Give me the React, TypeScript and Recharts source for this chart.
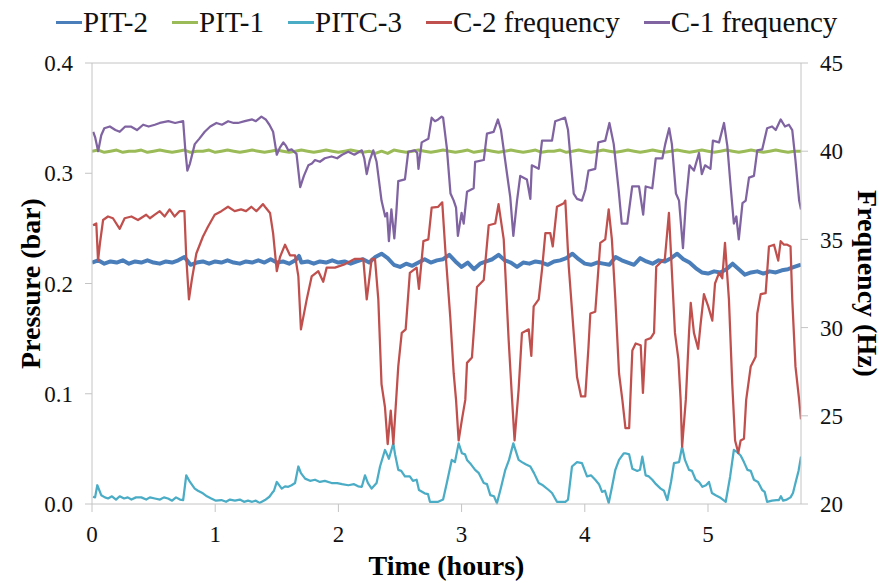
import React from "react"
import { Label, Line, LineChart, ReferenceLine, XAxis, YAxis } from "recharts"

// [hours, bar]
const pit2: [number, number][] = [
  [0, 0.219], [0.05, 0.221], [0.1, 0.218], [0.15, 0.22], [0.2, 0.219], [0.25, 0.221], [0.3, 0.218],
  [0.35, 0.22], [0.4, 0.219], [0.45, 0.221], [0.5, 0.219], [0.55, 0.218], [0.6, 0.22], [0.65, 0.219],
  [0.7, 0.221], [0.75, 0.224], [0.8, 0.217], [0.85, 0.219], [0.9, 0.22], [0.95, 0.218], [1.0, 0.22],
  [1.05, 0.219], [1.1, 0.221], [1.15, 0.219], [1.2, 0.218], [1.25, 0.22], [1.3, 0.219], [1.35, 0.221],
  [1.4, 0.219], [1.45, 0.222], [1.5, 0.219], [1.55, 0.22], [1.6, 0.218], [1.65, 0.221], [1.68, 0.225],
  [1.7, 0.219], [1.75, 0.22], [1.8, 0.218], [1.85, 0.22], [1.9, 0.219], [1.95, 0.221], [2.0, 0.219],
  [2.05, 0.22], [2.1, 0.218], [2.15, 0.22], [2.2, 0.222], [2.25, 0.219], [2.3, 0.224], [2.35, 0.227],
  [2.4, 0.223], [2.45, 0.217], [2.5, 0.215], [2.55, 0.218], [2.6, 0.216], [2.65, 0.219], [2.7, 0.222],
  [2.75, 0.219], [2.8, 0.221], [2.85, 0.222], [2.9, 0.226], [2.95, 0.22], [3.0, 0.215], [3.05, 0.219],
  [3.1, 0.213], [3.15, 0.218], [3.2, 0.22], [3.25, 0.222], [3.3, 0.226], [3.35, 0.221], [3.4, 0.219],
  [3.45, 0.215], [3.5, 0.219], [3.55, 0.218], [3.6, 0.22], [3.65, 0.219], [3.7, 0.217], [3.75, 0.22],
  [3.8, 0.221], [3.85, 0.223], [3.9, 0.227], [3.95, 0.222], [4.0, 0.218], [4.05, 0.217], [4.1, 0.219],
  [4.15, 0.218], [4.2, 0.217], [4.25, 0.224], [4.3, 0.221], [4.35, 0.219], [4.4, 0.217], [4.45, 0.223],
  [4.5, 0.22], [4.55, 0.218], [4.6, 0.221], [4.65, 0.22], [4.7, 0.223], [4.75, 0.227], [4.8, 0.222],
  [4.85, 0.219], [4.9, 0.214], [4.95, 0.21], [5.0, 0.209], [5.05, 0.211], [5.1, 0.21], [5.15, 0.213],
  [5.2, 0.218], [5.25, 0.213], [5.3, 0.208], [5.35, 0.21], [5.4, 0.211], [5.45, 0.209], [5.5, 0.211],
  [5.55, 0.21], [5.6, 0.212], [5.65, 0.213], [5.7, 0.215], [5.755, 0.217],
]

const pit1: [number, number][] = [
  [0, 0.32], [0.05, 0.321], [0.1, 0.319], [0.15, 0.32], [0.2, 0.321], [0.25, 0.319], [0.3, 0.32],
  [0.35, 0.32], [0.4, 0.321], [0.45, 0.319], [0.5, 0.32], [0.55, 0.321], [0.6, 0.32], [0.65, 0.319],
  [0.7, 0.32], [0.75, 0.321], [0.8, 0.319], [0.85, 0.32], [0.9, 0.32], [0.95, 0.321], [1.0, 0.319],
  [1.05, 0.32], [1.1, 0.321], [1.15, 0.32], [1.2, 0.319], [1.25, 0.32], [1.3, 0.321], [1.35, 0.32],
  [1.4, 0.319], [1.45, 0.32], [1.5, 0.321], [1.55, 0.32], [1.6, 0.319], [1.65, 0.32], [1.7, 0.321],
  [1.75, 0.32], [1.8, 0.319], [1.85, 0.32], [1.9, 0.321], [1.95, 0.32], [2.0, 0.319], [2.05, 0.32],
  [2.1, 0.321], [2.15, 0.32], [2.2, 0.319], [2.25, 0.32], [2.3, 0.318], [2.35, 0.32], [2.4, 0.318],
  [2.45, 0.321], [2.5, 0.32], [2.55, 0.319], [2.6, 0.32], [2.65, 0.321], [2.7, 0.32], [2.75, 0.319],
  [2.8, 0.32], [2.85, 0.321], [2.9, 0.32], [2.95, 0.319], [3.0, 0.32], [3.05, 0.321], [3.1, 0.319],
  [3.15, 0.32], [3.2, 0.321], [3.25, 0.32], [3.3, 0.319], [3.35, 0.32], [3.4, 0.321], [3.45, 0.32],
  [3.5, 0.319], [3.55, 0.32], [3.6, 0.321], [3.65, 0.319], [3.7, 0.32], [3.75, 0.32], [3.8, 0.321],
  [3.85, 0.319], [3.9, 0.32], [3.95, 0.321], [4.0, 0.32], [4.05, 0.319], [4.1, 0.32], [4.15, 0.321],
  [4.2, 0.32], [4.25, 0.319], [4.3, 0.32], [4.35, 0.321], [4.4, 0.32], [4.45, 0.319], [4.5, 0.32],
  [4.55, 0.321], [4.6, 0.32], [4.65, 0.319], [4.7, 0.32], [4.75, 0.321], [4.8, 0.32], [4.85, 0.319],
  [4.9, 0.32], [4.95, 0.321], [5.0, 0.32], [5.05, 0.319], [5.1, 0.32], [5.15, 0.321], [5.2, 0.32],
  [5.25, 0.319], [5.3, 0.32], [5.35, 0.321], [5.4, 0.32], [5.45, 0.319], [5.5, 0.32], [5.55, 0.321],
  [5.6, 0.32], [5.65, 0.319], [5.7, 0.32], [5.755, 0.32],
]

const pitc3: [number, number][] = [
  [0.008, 0.0066], [0.025, 0.006], [0.043, 0.017], [0.075, 0.008], [0.105, 0.006], [0.13, 0.005],
  [0.162, 0.007], [0.195, 0.004], [0.225, 0.007], [0.26, 0.005], [0.29, 0.006], [0.32, 0.004],
  [0.357, 0.006], [0.4, 0.006], [0.44, 0.004], [0.47, 0.006], [0.51, 0.005], [0.552, 0.004],
  [0.584, 0.006], [0.617, 0.005], [0.65, 0.003], [0.682, 0.006], [0.714, 0.004], [0.74, 0.0036],
  [0.765, 0.026], [0.795, 0.02], [0.834, 0.014], [0.86, 0.012], [0.9, 0.0097], [0.933, 0.007],
  [0.968, 0.005], [1.006, 0.003], [1.05, 0.0036], [1.088, 0.002], [1.12, 0.004], [1.16, 0.003],
  [1.2, 0.004], [1.234, 0.002], [1.266, 0.003], [1.3, 0.002], [1.33, 0.003], [1.36, 0.001],
  [1.404, 0.0036], [1.44, 0.0066], [1.46, 0.0097], [1.477, 0.012], [1.5, 0.02], [1.54, 0.014],
  [1.567, 0.016], [1.593, 0.0156], [1.62, 0.017], [1.648, 0.019], [1.675, 0.034], [1.696, 0.028],
  [1.73, 0.023], [1.77, 0.021], [1.81, 0.022], [1.85, 0.02], [1.89, 0.021], [1.945, 0.019],
  [1.99, 0.019], [2.03, 0.018], [2.08, 0.017], [2.127, 0.018], [2.16, 0.016], [2.19, 0.0156],
  [2.216, 0.026], [2.24, 0.019], [2.27, 0.014], [2.31, 0.019], [2.338, 0.034], [2.378, 0.049],
  [2.395, 0.045], [2.41, 0.041], [2.446, 0.055], [2.46, 0.045], [2.486, 0.031], [2.51, 0.03],
  [2.54, 0.025], [2.58, 0.025], [2.605, 0.021], [2.635, 0.022], [2.654, 0.0127], [2.7, 0.0097],
  [2.727, 0.009], [2.743, 0.002], [2.81, 0.002], [2.85, 0.004], [2.88, 0.019], [2.92, 0.04],
  [2.946, 0.038], [2.976, 0.055], [3.003, 0.046], [3.028, 0.045], [3.044, 0.04], [3.076, 0.036],
  [3.11, 0.031], [3.14, 0.028], [3.18, 0.019], [3.206, 0.018], [3.233, 0.008], [3.263, 0.007],
  [3.287, 0.0006], [3.32, 0.015], [3.355, 0.031], [3.385, 0.04], [3.42, 0.055], [3.463, 0.04],
  [3.49, 0.038], [3.52, 0.036], [3.558, 0.034], [3.588, 0.028], [3.626, 0.019], [3.66, 0.017],
  [3.707, 0.0127], [3.734, 0.01], [3.774, 0.002], [3.842, 0.002], [3.864, 0.004], [3.896, 0.034],
  [3.937, 0.038], [3.977, 0.037], [4.018, 0.025], [4.05, 0.026], [4.085, 0.022], [4.115, 0.018],
  [4.14, 0.011], [4.164, 0.012], [4.194, 0.001], [4.22, 0.015], [4.248, 0.031], [4.278, 0.04],
  [4.316, 0.046], [4.33, 0.046], [4.36, 0.045], [4.386, 0.032], [4.426, 0.03], [4.448, 0.031],
  [4.467, 0.043], [4.494, 0.026], [4.52, 0.025], [4.548, 0.022], [4.578, 0.018], [4.616, 0.014],
  [4.643, 0.012], [4.67, 0.0036], [4.7, 0.02], [4.724, 0.037], [4.765, 0.038], [4.79, 0.052],
  [4.813, 0.04], [4.846, 0.031], [4.87, 0.03], [4.9, 0.022], [4.927, 0.02], [4.955, 0.0156],
  [4.984, 0.017], [5.008, 0.02], [5.032, 0.01], [5.062, 0.008], [5.097, 0.006], [5.144, 0.002],
  [5.18, 0.025], [5.21, 0.049], [5.237, 0.047], [5.265, 0.044], [5.292, 0.038], [5.32, 0.031],
  [5.347, 0.03], [5.373, 0.022], [5.406, 0.02], [5.44, 0.0127], [5.46, 0.011], [5.48, 0.002],
  [5.52, 0.003], [5.555, 0.0035], [5.576, 0.0036], [5.592, 0.007], [5.61, 0.003], [5.64, 0.004],
  [5.67, 0.006], [5.69, 0.01], [5.71, 0.019], [5.735, 0.03], [5.755, 0.043],
]

// [hours, Hz]
const c2Freq: [number, number][] = [
  [0.008, 35.8], [0.035, 35.9], [0.049, 33.8], [0.065, 34.8], [0.09, 36.1], [0.13, 36.3], [0.17, 36.2],
  [0.225, 35.6], [0.265, 36.2], [0.32, 36.3], [0.373, 36.1], [0.44, 36.4], [0.47, 36.2], [0.51, 36.4],
  [0.55, 36.6], [0.59, 36.3], [0.63, 36.7], [0.67, 36.3], [0.71, 36.6], [0.75, 36.6], [0.765, 34.0],
  [0.787, 31.6], [0.81, 32.7], [0.847, 34.2], [0.9, 35.15], [0.94, 35.7], [0.996, 36.4], [1.05, 36.6],
  [1.104, 36.85], [1.158, 36.6], [1.21, 36.7], [1.25, 36.6], [1.293, 36.85], [1.334, 36.6],
  [1.388, 37.0], [1.404, 36.85], [1.445, 36.5], [1.47, 35.35], [1.5, 33.2], [1.526, 34.0],
  [1.567, 34.7], [1.607, 34.1], [1.648, 34.1], [1.675, 32.9], [1.696, 29.9], [1.743, 31.6],
  [1.783, 32.9], [1.837, 33.2], [1.877, 32.6], [1.905, 33.4], [1.972, 33.4], [2.054, 33.6],
  [2.135, 33.9], [2.202, 33.9], [2.23, 31.6], [2.248, 32.6], [2.27, 33.9], [2.297, 33.9],
  [2.324, 31.6], [2.35, 26.8], [2.378, 25.5], [2.4, 23.4], [2.425, 25.3], [2.446, 23.4],
  [2.486, 27.8], [2.514, 29.7], [2.546, 29.9], [2.58, 33.1], [2.635, 33.4], [2.654, 32.2],
  [2.69, 34.9], [2.73, 35.0], [2.757, 36.8], [2.81, 36.85], [2.843, 37.1], [2.868, 34.4],
  [2.908, 30.6], [2.936, 27.4], [2.955, 25.9], [2.976, 23.6], [3.003, 24.8], [3.03, 25.9],
  [3.044, 28.0], [3.084, 28.3], [3.125, 32.3], [3.18, 32.7], [3.22, 35.8], [3.273, 35.9],
  [3.3, 37.0], [3.342, 35.0], [3.382, 29.3], [3.41, 25.9], [3.43, 23.6], [3.463, 26.5], [3.49, 29.7],
  [3.545, 29.9], [3.566, 28.4], [3.585, 31.2], [3.626, 31.6], [3.653, 33.3], [3.68, 35.35],
  [3.72, 35.35], [3.74, 34.6], [3.774, 36.85], [3.83, 37.05], [3.842, 37.2], [3.87, 33.45],
  [3.91, 29.7], [3.937, 27.2], [3.97, 26.1], [4.004, 26.1], [4.03, 28.9], [4.045, 30.8], [4.085, 30.9],
  [4.126, 34.8], [4.166, 35.0], [4.194, 36.7], [4.22, 35.0], [4.248, 31.6], [4.278, 27.4],
  [4.305, 25.9], [4.33, 24.3], [4.36, 24.3], [4.386, 28.7], [4.413, 29.1], [4.454, 29.0],
  [4.472, 26.3], [4.494, 29.3], [4.535, 29.4], [4.562, 29.7], [4.58, 33.45], [4.616, 33.7],
  [4.65, 33.9], [4.683, 36.5], [4.705, 33.45], [4.732, 29.7], [4.76, 28.2], [4.778, 25.9],
  [4.79, 23.25], [4.82, 25.9], [4.846, 29.7], [4.86, 31.4], [4.886, 29.7], [4.92, 28.8], [4.94, 30.2],
  [4.967, 31.9], [5.002, 31.2], [5.035, 30.4], [5.057, 32.5], [5.09, 33.1], [5.116, 32.8],
  [5.138, 34.8], [5.17, 31.6], [5.197, 26.8], [5.22, 23.6], [5.246, 22.9], [5.265, 23.6],
  [5.292, 23.7], [5.31, 25.9], [5.347, 27.8], [5.387, 28.35], [5.4, 30.8], [5.428, 31.9],
  [5.468, 31.95], [5.495, 34.6], [5.536, 34.7], [5.57, 33.8], [5.59, 34.9], [5.617, 34.7],
  [5.643, 34.7], [5.67, 34.6], [5.684, 31.6], [5.71, 27.8], [5.74, 25.9], [5.755, 24.8],
]

const c1Freq: [number, number][] = [
  [0.01, 41.1], [0.025, 40.8], [0.05, 40.0], [0.075, 40.9], [0.1, 41.3], [0.145, 41.4], [0.19, 41.2],
  [0.225, 41.1], [0.27, 41.4], [0.315, 41.4], [0.365, 41.2], [0.415, 41.5], [0.46, 41.4], [0.51, 41.5],
  [0.55, 41.6], [0.62, 41.7], [0.675, 41.6], [0.74, 41.7], [0.757, 40.1], [0.774, 38.9], [0.795, 39.3],
  [0.834, 40.4], [0.87, 40.7], [0.915, 41.1], [0.96, 41.4], [1.01, 41.6], [1.055, 41.5], [1.105, 41.7],
  [1.15, 41.6], [1.185, 41.6], [1.24, 41.7], [1.3, 41.8], [1.33, 41.7], [1.375, 41.96], [1.41, 41.8],
  [1.44, 41.5], [1.47, 41.1], [1.5, 39.8], [1.525, 40.2], [1.553, 40.5], [1.575, 40.3], [1.593, 40.05],
  [1.62, 40.1], [1.66, 39.85], [1.69, 37.96], [1.72, 38.6], [1.756, 39.2], [1.785, 39.3], [1.81, 39.5],
  [1.85, 39.4], [1.89, 39.6], [1.945, 39.7], [1.99, 39.6], [2.03, 39.8], [2.08, 39.97], [2.13, 39.8],
  [2.19, 40.05], [2.21, 39.6], [2.23, 38.7], [2.255, 39.5], [2.283, 40.05], [2.31, 39.4], [2.33, 38.3],
  [2.35, 37.2], [2.38, 36.3], [2.395, 36.5], [2.41, 34.9], [2.43, 36.7], [2.454, 35.06], [2.47, 36.5],
  [2.486, 38.3], [2.54, 38.4], [2.567, 39.97], [2.62, 40.05], [2.64, 39.9], [2.65, 39.0], [2.676, 40.5],
  [2.73, 40.7], [2.757, 41.9], [2.784, 41.7], [2.81, 41.8], [2.838, 41.96], [2.85, 41.9], [2.88, 40.2],
  [2.91, 37.6], [2.936, 37.2], [2.955, 36.8], [2.97, 35.2], [3.0, 36.5], [3.017, 35.9], [3.044, 37.7],
  [3.098, 37.9], [3.11, 39.4], [3.18, 39.5], [3.206, 41.0], [3.26, 41.1], [3.295, 41.8], [3.32, 41.2],
  [3.37, 38.65], [3.395, 37.4], [3.42, 35.2], [3.45, 37.2], [3.476, 38.6], [3.53, 38.4], [3.558, 37.3],
  [3.57, 39.2], [3.626, 39.0], [3.653, 40.6], [3.734, 40.6], [3.76, 41.7], [3.8, 41.8], [3.84, 41.9],
  [3.864, 41.2], [3.91, 37.6], [3.937, 37.3], [3.977, 37.2], [4.004, 37.8], [4.03, 38.9], [4.085, 39.0],
  [4.11, 40.5], [4.166, 40.6], [4.2, 41.6], [4.235, 40.4], [4.275, 37.8], [4.3, 35.9], [4.345, 35.9],
  [4.385, 38.0], [4.44, 38.0], [4.474, 36.4], [4.494, 38.0], [4.548, 37.9], [4.576, 39.6], [4.63, 39.6],
  [4.653, 40.4], [4.685, 41.3], [4.707, 40.4], [4.74, 37.6], [4.765, 37.2], [4.797, 34.5], [4.82, 37.05],
  [4.85, 39.2], [4.886, 38.9], [4.927, 39.9], [4.95, 38.7], [4.976, 39.2], [5.02, 39.0], [5.04, 40.6],
  [5.09, 40.5], [5.13, 41.6], [5.157, 40.3], [5.184, 38.0], [5.21, 35.9], [5.23, 36.3], [5.25, 35.0],
  [5.28, 37.05], [5.306, 37.2], [5.333, 38.5], [5.373, 38.6], [5.4, 40.05], [5.44, 40.1], [5.48, 41.3],
  [5.52, 41.4], [5.55, 41.2], [5.59, 41.8], [5.625, 41.4], [5.657, 41.5], [5.684, 41.2], [5.71, 39.5],
  [5.74, 37.2], [5.755, 36.7],
]

const timeTicks = [0, 1, 2, 3, 4, 5]
const pressureTicks = [0, 0.1, 0.2, 0.3, 0.4]
const freqTicks = [20, 25, 30, 35, 40, 45]

const toRows = (pts: [number, number][]) => pts.map(([t, v]) => ({ t, v }))

const series = [
  { name: "PIT-2", data: toRows(pit2), axis: "p", color: "#4A7EBB", width: 4 },
  { name: "PIT-1", data: toRows(pit1), axis: "p", color: "#9BBB59", width: 3 },
  { name: "PITC-3", data: toRows(pitc3), axis: "p", color: "#4BACC6", width: 2.25 },
  { name: "C-2 frequency", data: toRows(c2Freq), axis: "f", color: "#C0504D", width: 2.25 },
  { name: "C-1 frequency", data: toRows(c1Freq), axis: "f", color: "#8064A2", width: 2.25 },
]

const FONT = "Liberation Serif, DejaVu Serif, serif"
const AXIS = "#c4c4c4"
const tickStyle = { fill: "#111", fontSize: 23, fontFamily: FONT }
const titleStyle = { fill: "#000", fontSize: 28, fontWeight: 700, fontFamily: FONT }

export default function App() {
  return (
    <div style={{ position: "absolute", left: 0, top: 0, width: 885, height: 582, background: "#fff" }}>
      <div
        style={{
          position: "absolute",
          left: 56,
          top: 8,
          display: "flex",
          gap: 24,
          fontFamily: FONT,
          fontSize: 29,
          lineHeight: "29px",
          color: "#111",
          whiteSpace: "nowrap",
        }}
      >
        {series.map((s) => (
          <div key={s.name} style={{ display: "flex", alignItems: "center" }}>
            <span style={{ display: "inline-block", width: 26, height: 3, background: s.color, marginRight: 1 }} />
            <span>{s.name}</span>
          </div>
        ))}
      </div>
      <LineChart width={885} height={582} margin={{ top: 63, right: 0, bottom: 0, left: 0 }}>
        <XAxis
          dataKey="t"
          type="number"
          domain={[0, 5.755]}
          ticks={timeTicks}
          allowDataOverflow
          stroke={AXIS}
          tickSize={8}
          tickMargin={14}
          height={78}
          tick={tickStyle}
        >
          <Label value="Time (hours)" position="insideBottom" offset={7} style={titleStyle} />
        </XAxis>
        <YAxis
          yAxisId="p"
          orientation="left"
          domain={[0, 0.4]}
          ticks={pressureTicks}
          tickFormatter={(v: number) => v.toFixed(1)}
          width={92}
          stroke={AXIS}
          tickSize={7}
          tickMargin={12}
          tick={tickStyle}
        >
          <Label value="Pressure (bar)" angle={-90} position="center" dx={-16} style={titleStyle} />
        </YAxis>
        <YAxis
          yAxisId="f"
          orientation="right"
          domain={[20, 45]}
          ticks={freqTicks}
          width={84}
          stroke={AXIS}
          tickSize={7}
          tickMargin={12}
          tick={tickStyle}
        >
          <Label value="Frequency (Hz)" angle={90} position="center" dx={25} style={titleStyle} />
        </YAxis>
        <ReferenceLine yAxisId="p" y={0.4} stroke={AXIS} strokeWidth={1} />
        {series.map((s) => (
          <Line
            key={s.name}
            data={s.data}
            dataKey="v"
            name={s.name}
            yAxisId={s.axis}
            type="linear"
            stroke={s.color}
            strokeWidth={s.width}
            strokeLinejoin="round"
            dot={false}
            activeDot={false}
            isAnimationActive={false}
          />
        ))}
      </LineChart>
    </div>
  )
}
